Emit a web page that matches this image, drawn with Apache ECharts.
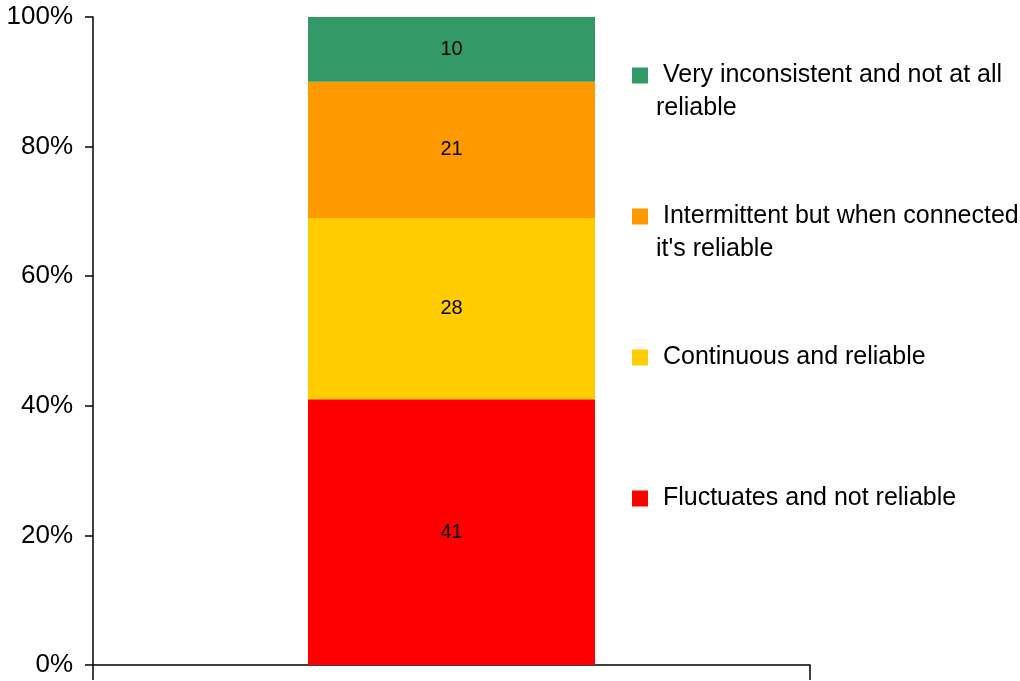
<!DOCTYPE html>
<html>
<head>
<meta charset="utf-8">
<script src="https://cdn.jsdelivr.net/npm/echarts@6/dist/echarts.min.js"></script>
<style>html,body{margin:0;padding:0;background:#fff}#c{width:1020px;height:681px}</style>
</head>
<body>
<div id="c"></div>
<script>
var categories = [''];
var seriesNames = ['Fluctuates and not reliable', 'Continuous and reliable', "Intermittent but when connected it's reliable", 'Very inconsistent and not at all reliable'];
var fluctuates = [41];
var continuous = [28];
var intermittent = [21];
var veryInconsistent = [10];
var yTicks = [0, 20, 40, 60, 80, 100];
var legendText = {
  'Very inconsistent and not at all reliable': '\n Very inconsistent and not at all\nreliable',
  "Intermittent but when connected it's reliable": "\n Intermittent but when connected\nit's reliable",
  'Continuous and reliable': '\n Continuous and reliable\n',
  'Fluctuates and not reliable': '\n Fluctuates and not reliable\n'
};
var colors = ['#FF0000', '#FFCC00', '#FF9900', '#339966'];
var values = [fluctuates, continuous, intermittent, veryInconsistent];
var FONT = '"Liberation Sans", Arial, sans-serif';

var chart = echarts.init(document.getElementById('c'), null, {renderer: 'canvas'});
var series = seriesNames.map(function (n, i) {
  return {
    name: n, type: 'bar', stack: 'total', data: values[i], barWidth: 287,
    itemStyle: {color: colors[i]},
    label: {show: true, position: 'inside', color: '#000', fontSize: 20, fontFamily: FONT},
    emphasis: {disabled: true}
  };
});
chart.setOption({
  animation: false,
  textStyle: {fontFamily: FONT},
  grid: {left: 93, right: 210, top: 17, bottom: 16, containLabel: false},
  legend: {
    orient: 'vertical', left: 632, top: 26, padding: 0, itemGap: 42,
    itemWidth: 16, itemHeight: 16, icon: 'rect',
    data: [seriesNames[3], seriesNames[2], seriesNames[1], seriesNames[0]],
    formatter: function (n) { return legendText[n]; },
    textStyle: {fontSize: 25, lineHeight: 33, color: '#000', fontFamily: FONT, padding: [0, 0, 0, 3]},
    selectedMode: false
  },
  xAxis: {
    type: 'category', data: categories, boundaryGap: true,
    axisLine: {lineStyle: {color: '#000', width: 1.5}},
    axisTick: {show: true, length: 15, lineStyle: {color: '#000', width: 1.5}},
    axisLabel: {show: false}
  },
  yAxis: {
    type: 'value', min: yTicks[0], max: yTicks[yTicks.length - 1], interval: 20,
    axisLine: {show: true, lineStyle: {color: '#000', width: 1.5}},
    axisTick: {show: true, length: 8, lineStyle: {color: '#000', width: 1.5}},
    splitLine: {show: false},
    axisLabel: {formatter: '{value}%', fontSize: 26, color: '#000', margin: 20, fontFamily: FONT}
  },
  series: series
});
</script>
</body>
</html>
